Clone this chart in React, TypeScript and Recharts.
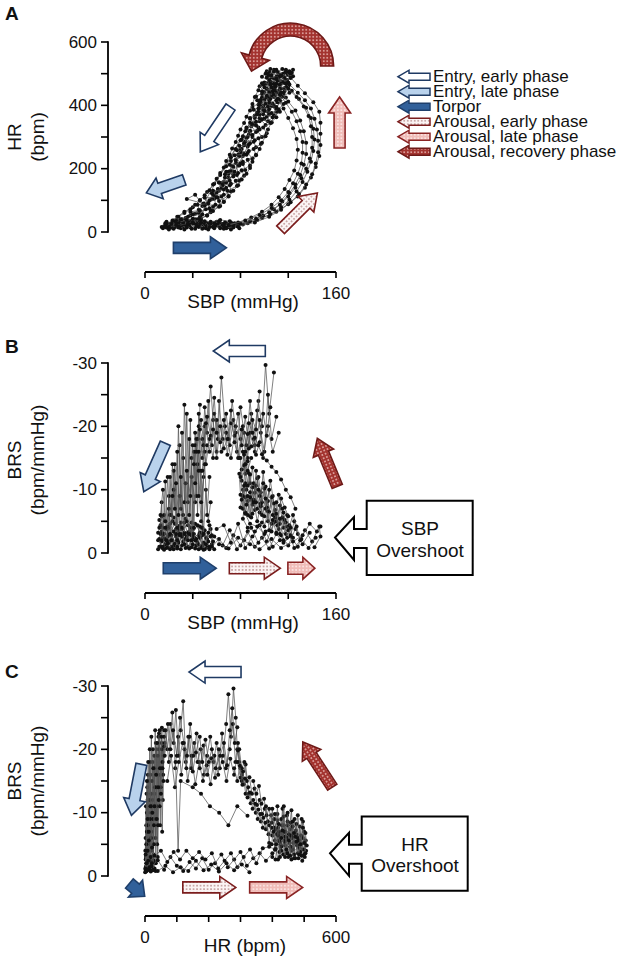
import React from "react";
import { ScatterChart, Scatter, XAxis, YAxis, ReferenceDot } from "recharts";

type Pt = [number, number];

// ---------- Panel A: SBP (mmHg) vs HR (bpm) ----------
const aTop: Pt[] = [[104,505],[110,512],[116,500],[121,508],[113,490],[107,470],[119,480],[124,492],[102,488],[109,462],[117,455],[100,472],[112,445],[105,420],[114,430],[99,440],[108,398],[96,410],[103,380],[111,410],[118,512],[123,503],[106,496]];
const aTop2: Pt[] = [[101,500],[105,515],[111,505],[115,515],[120,498],[117,486],[111,478],[104,480],[99,465],[106,458],[113,466],[120,470],[116,440],[109,448],[102,452],[98,425],[106,432],[112,420],[118,425],[110,395],[101,405],[95,390],[104,388],[99,372],[107,362],[113,380],[103,350],[96,360]];
const aTop3: Pt[] = [[103,498],[108,506],[114,494],[119,502],[122,486],[116,474],[110,484],[105,466],[100,456],[107,444],[113,452],[119,460],[121,440],[115,428],[108,436],[102,430],[97,418],[104,408],[110,416],[116,404],[112,388],[106,376],[100,382],[94,372],[98,356],[105,344],[110,362]];
const aEntry1: Pt[] = [[118,510],[112,498],[108,485],[115,470],[106,455],[110,440],[103,425],[107,405],[100,390],[104,372],[97,355],[101,338],[94,320],[98,300],[91,285],[93,268],[86,250],[90,232],[82,215],[84,196],[77,180],[79,162],[71,148],[72,128],[64,112],[66,95],[57,80],[55,62],[46,48],[40,35],[32,25],[24,18],[18,14]];
const aEntry2: Pt[] = [[108,512],[104,495],[112,480],[100,466],[107,450],[98,436],[104,418],[95,402],[99,386],[92,368],[96,350],[89,334],[93,316],[85,298],[88,280],[80,262],[85,244],[76,228],[79,210],[72,193],[74,175],[66,158],[68,140],[60,125],[61,108],[53,92],[54,75],[45,60],[47,44],[37,34],[30,22],[22,15]];
const aEntry3: Pt[] = [[122,500],[116,488],[120,472],[112,462],[117,445],[109,432],[113,415],[106,398],[110,380],[102,364],[106,346],[99,330],[102,312],[95,296],[97,278],[91,262],[93,244],[86,228],[88,210],[81,195],[83,178],[76,162],[77,145],[69,130],[70,114],[62,98],[63,82],[55,68],[52,52],[44,40],[36,28],[28,20]];
const aEntry4: Pt[] = [[102,508],[98,490],[105,475],[96,460],[100,442],[93,428],[97,410],[90,395],[94,377],[88,360],[91,342],[85,326],[87,308],[81,292],[83,274],[77,258],[79,240],[72,224],[74,206],[68,190],[70,172],[62,156],[64,138],[56,122],[58,105],[49,90],[35,104],[42,118],[51,72],[42,58],[40,42],[32,30],[26,22],[20,16]];
const aEntry5: Pt[] = [[124,512],[120,496],[110,490],[118,468],[108,470],[114,452],[104,448],[108,426],[100,418],[103,396],[96,392],[100,358],[93,348],[96,324],[88,318],[92,290],[84,286],[87,256],[80,252],[82,222],[76,218],[78,186],[70,184],[72,152],[65,148],[66,118],[58,116],[59,86],[50,84],[48,56],[38,52],[35,38],[28,30],[20,20]];
const aEntry6: Pt[] = [[114,476],[109,458],[104,440],[100,420],[97,400],[95,380],[92,360],[90,340],[88,320],[86,300],[83,280],[81,262],[78,244],[76,226],[73,208],[70,190],[67,172],[64,154],[61,136],[57,118],[54,100],[50,86],[45,70],[40,56],[34,44],[28,34],[22,26],[17,20]];
const aEntry7: Pt[] = [[106,488],[102,470],[108,452],[98,444],[102,426],[94,416],[99,398],[91,386],[96,370],[88,358],[93,336],[85,330],[90,306],[82,302],[87,276],[79,272],[83,246],[75,242],[80,216],[71,212],[75,190],[67,182],[71,162],[62,156],[66,134],[57,130],[60,110],[50,108],[53,90],[44,86],[46,68],[38,64],[36,48],[30,40],[26,30]];
const aEntry8: Pt[] = [[120,460],[116,436],[113,412],[110,390],[108,368],[106,346],[103,324],[101,302],[98,282],[96,262],[93,242],[90,222],[88,202],[85,184],[81,166],[78,148],[74,130],[70,112],[66,96],[62,80],[57,66],[52,52],[46,40],[40,30]];
const aEntry9: Pt[] = [[98,470],[95,448],[92,426],[90,404],[88,384],[85,364],[83,344],[80,324],[78,304],[76,284],[73,264],[71,244],[68,224],[66,204],[63,186],[60,168],[57,150],[54,132],[50,116],[46,100],[42,86],[38,72],[33,60],[28,48],[23,36],[18,26]];
const aBand: Pt[] = [[95,330],[90,300],[86,270],[82,240],[78,210],[74,182],[68,156],[62,130],[56,104],[48,82],[88,345],[84,318],[80,290],[76,262],[72,236],[68,208],[63,180],[58,152],[52,126],[46,100],[40,78],[33,64],[27,48],[24,36]];
const aTorpor1: Pt[] = [[18,20],[22,14],[26,22],[30,12],[34,24],[38,15],[42,10],[46,20],[50,14],[54,24],[58,12],[62,18],[66,10],[70,22],[74,14],[68,28],[60,32],[52,28],[44,34],[36,28],[28,32],[20,26],[16,18],[24,10],[32,18],[40,26],[48,10],[56,20],[64,26],[72,8]];
const aTorpor2: Pt[] = [[15,12],[20,8],[25,16],[29,20],[33,8],[37,20],[41,28],[45,16],[49,24],[53,8],[57,16],[61,28],[65,20],[69,14],[73,26],[77,18],[71,34],[63,38],[55,32],[47,38],[39,36],[31,40],[23,30],[19,24],[27,26],[35,14],[43,18],[51,18],[59,24],[67,16]];
const aTorpor3: Pt[] = [[14,16],[17,28],[21,18],[24,34],[28,14],[31,30],[35,20],[39,10],[43,24],[47,30],[51,12],[55,28],[59,20],[63,12],[67,30],[71,18],[75,28],[79,12],[76,22],[72,30],[66,24],[62,34],[58,28],[54,16],[50,34],[46,26],[42,40],[38,30],[34,38],[30,24],[26,38],[22,22],[18,32]];
const aArousal1: Pt[] = [[72,15],[86,28],[98,44],[110,64],[120,88],[128,112],[134,140],[139,172],[143,205],[146,240],[147,275],[147,310],[147,345],[146,380],[141,410],[134,438],[128,462],[122,488],[118,505]];
const aArousal2: Pt[] = [[68,12],[82,24],[94,38],[105,56],[114,78],[121,102],[127,128],[132,158],[136,190],[139,222],[141,256],[142,292],[141,326],[139,360],[135,392],[129,420],[123,446],[118,470],[114,494]];
const aArousal3: Pt[] = [[74,20],[88,34],[99,52],[108,72],[115,96],[121,122],[126,150],[130,180],[133,212],[135,246],[135,282],[133,318],[130,352],[126,384],[120,412],[114,440],[110,468]];
const aArousal4: Pt[] = [[66,20],[78,30],[89,46],[98,64],[106,86],[112,110],[117,136],[121,164],[125,194],[127,226],[128,260],[127,294],[124,328],[120,360],[116,390],[111,420],[108,448]];
const aArousal5: Pt[] = [[80,26],[93,42],[104,62],[113,86],[120,112],[126,140],[131,170],[135,200],[138,232],[140,266],[140,300],[139,334],[137,366],[133,396],[127,426],[120,452]];
const aArousal6: Pt[] = [[70,22],[84,36],[96,54],[106,76],[114,100],[120,126],[124,154],[128,184],[131,216],[132,250],[132,284],[130,318],[127,350],[123,380],[118,408],[113,434],[109,460]];
const aArousal7: Pt[] = [[78,18],[92,30],[104,48],[114,70],[122,94],[129,120],[135,150],[140,182],[143,216],[145,252],[145,288],[144,324],[142,358],[139,390],[134,416],[128,440],[121,466]];

// ---------- Panel B: SBP (mmHg) vs BRS (bpm/mmHg) ----------
const bTop1: Pt[] = [[108,-28.5],[104,-22],[101,-29.7],[98,-20],[95,-24],[92,-17],[89,-22],[86,-15],[83,-19],[80,-23],[77,-16],[74,-21],[71,-17],[68,-22],[65,-18],[62,-24],[60,-16],[57,-21],[55,-26.3],[52,-19],[50,-23],[48,-15],[45,-20],[42,-17]];
const bTop2: Pt[] = [[110,-21.5],[106,-18],[103,-25],[100,-16],[97,-19],[94,-22.5],[91,-18],[88,-24],[85,-17],[82,-20],[79,-15],[76,-19],[73,-24],[70,-18],[67,-20],[64,-27.7],[61,-18],[58,-22],[56,-17],[53,-24],[50,-16],[47,-21],[44,-18],[41,-14]];
const bTop3: Pt[] = [[112,-19],[107,-16],[103,-20],[99,-15],[96,-21],[92,-16],[88,-19],[84,-14],[80,-18],[76,-20],[72,-15],[68,-19],[64,-16],[60,-21],[57,-15],[54,-18],[51,-14],[48,-18],[45,-13]];
const bTop4: Pt[] = [[96,-25.5],[93,-19.5],[90,-21],[87,-16.5],[84,-21.5],[81,-17],[78,-22],[75,-18.5],[72,-20.5],[69,-15.5],[66,-21],[63,-17.5],[60,-19],[58,-24.5],[55,-18.5],[52,-21.5],[49,-17],[46,-19.5],[43,-16]];
const bTop5: Pt[] = [[105,-23],[102,-18.5],[99,-22],[96,-17.5],[93,-15.5],[90,-19],[87,-20.5],[84,-16],[81,-19.5],[78,-15],[75,-17.5],[72,-22.5],[69,-18],[66,-16.5],[63,-20],[60,-15],[57,-19.5],[54,-16],[51,-20.5],[48,-13]];
const bLeft1: Pt[] = [[46,-23.4],[44,-6],[42,-19],[40,-3],[38,-21],[36,-8],[33,-23.4],[31,-4],[29,-17],[27,-2],[25,-14],[23,-5],[21,-12],[19,-1.5],[17,-11.3],[15,-3],[14,-8],[13,-1]];
const bLeft2: Pt[] = [[50,-20],[48,-4],[45,-22],[43,-9],[41,-16],[39,-2],[37,-18],[35,-5],[32,-15],[30,-7],[28,-20],[26,-3],[24,-13],[22,-6],[20,-9],[18,-2],[16,-6],[14,-2]];
const bLeft3: Pt[] = [[52,-17],[49,-12],[47,-5],[44,-14],[42,-8],[39,-12],[37,-3],[34,-11],[32,-6],[29,-9],[27,-4],[24,-10],[22,-2],[20,-7],[17,-4],[15,-1]];
const bLeft4: Pt[] = [[21,-6],[23,-14],[25,-7],[27,-16],[29,-3],[31,-19],[33,-8],[35,-22],[37,-6],[39,-15],[41,-4],[43,-18],[45,-9],[47,-13],[49,-3],[51,-10],[53,-5],[55,-8]];
const bLeft5: Pt[] = [[13,-6],[15,-10],[17,-5],[19,-12],[21,-3],[23,-9],[26,-11],[28,-6],[30,-12],[33,-3],[35,-13],[38,-9],[40,-17],[42,-11],[45,-16],[47,-8],[50,-14],[52,-6],[54,-12]];
const bTorpor1: Pt[] = [[12,-1],[15,-2.5],[18,-0.8],[21,-3],[24,-1.2],[27,-2.2],[30,-0.6],[33,-3.2],[36,-1],[39,-2],[42,-0.7],[45,-2.8],[48,-1.1],[51,-2.4],[54,-0.6],[50,-3.6],[44,-1.6],[38,-4],[32,-1.8],[26,-3.8],[20,-1.6],[14,-3.4],[11,-2],[16,-0.5],[23,-2],[29,-4.3],[35,-2.6],[41,-3],[47,-0.8],[53,-1.8]];
const bTorpor2: Pt[] = [[13,-3],[17,-1.4],[20,-4],[24,-0.6],[28,-1.6],[31,-2.6],[34,-0.8],[37,-3.4],[40,-1.4],[43,-2.2],[46,-4.2],[49,-1.6],[52,-0.9],[56,-1.4],[58,-0.6],[55,-2.6],[48,-2.8],[42,-4.6],[36,-2],[30,-3],[25,-4.6],[19,-2.6],[15,-4],[12,-5.2],[18,-3.8],[22,-1],[27,-0.7],[33,-4.8],[39,-0.9],[45,-1.3]];
const bTorpor3: Pt[] = [[11,-0.6],[14,-1.8],[16,-3],[19,-0.9],[22,-2.8],[25,-1.5],[28,-3.6],[31,-1.2],[34,-2.2],[37,-0.7],[40,-3.8],[43,-1.2],[46,-2.4],[49,-3.4],[52,-2.2],[55,-3.8],[57,-1.8],[54,-1],[50,-0.6],[46,-3.2],[41,-2.4],[36,-4.4],[31,-3.8],[26,-2.6],[21,-4.6],[17,-2.2],[13,-4.4],[11,-3.2]];
const bTorpor4: Pt[] = [[12,-2.2],[15,-0.7],[18,-2],[21,-0.6],[24,-3.4],[27,-1],[30,-4.8],[33,-1.4],[36,-3.2],[39,-4.8],[42,-2],[45,-0.6],[48,-4],[51,-1.4],[54,-4.4],[56,-2.8],[53,-3.2],[49,-0.5],[44,-4.4],[39,-2.8],[34,-5.4],[29,-2.8],[24,-5.6],[19,-4.2],[14,-5.8],[12,-4]];
const bArousal1: Pt[] = [[56,-1],[62,-2.2],[68,-0.8],[74,-2.8],[80,-1.2],[86,-3.4],[92,-1],[98,-2.4],[104,-0.7],[110,-3],[116,-1.6],[122,-2.6],[128,-1],[134,-3.6],[140,-1.8],[146,-4.2],[147,-2.6],[142,-0.9]];
const bArousal2: Pt[] = [[58,-2.6],[65,-1.2],[71,-3.6],[77,-0.6],[83,-2],[89,-4],[95,-1.6],[101,-3.4],[107,-1],[113,-2],[119,-4.2],[125,-0.8],[131,-2.2],[137,-0.8],[143,-2.4]];
const bArousal3: Pt[] = [[60,-3.8],[66,-4.4],[72,-1.6],[78,-4.6],[84,-0.8],[90,-2.6],[96,-4.4],[102,-1.8],[108,-4.8],[114,-2.8],[120,-1.2],[126,-3.8],[132,-1.4],[138,-3.2]];
const bArousal4: Pt[] = [[62,-1.4],[70,-0.7],[78,-2.4],[88,-1.4],[96,-0.6],[106,-2.2],[114,-0.8],[124,-1.8],[132,-2.8],[138,-4.6],[144,-3.4],[147,-4.2]];
const bRight1: Pt[] = [[128,-3],[125,-5],[122,-2.8],[119,-6],[116,-4],[113,-7.5],[110,-5],[107,-9],[104,-6.5],[101,-10.5],[98,-8],[95,-12],[92,-9.5],[90,-13.5],[88,-11],[86,-14.5],[84,-12.5],[82,-16]];
const bRight2: Pt[] = [[124,-2.4],[121,-4.4],[118,-3],[115,-5.6],[112,-3.8],[109,-6.8],[106,-4.6],[103,-8.2],[100,-5.8],[97,-9.6],[94,-7],[91,-11],[89,-8.4],[87,-12.6],[85,-10],[83,-13.8],[81,-11.4],[80,-15]];
const bRight3: Pt[] = [[120,-5.8],[117,-7.2],[114,-8.6],[111,-4.4],[108,-7.8],[105,-11.4],[102,-7.2],[99,-12.8],[96,-6.4],[93,-10.6],[90,-7.6],[88,-9.6],[86,-6],[84,-8.8],[82,-5.4],[86,-4],[92,-3.4],[98,-4.8]];
const bRight4: Pt[] = [[126,-7],[122,-8.8],[118,-10],[114,-11.6],[110,-12.8],[106,-13.6],[102,-14.6],[98,-15.6],[95,-17],[92,-18.2],[89,-16.8],[86,-18.8]];
const bRight5: Pt[] = [[118,-4.8],[115,-7],[112,-9.2],[109,-5.6],[106,-8.8],[103,-5],[100,-10.2],[97,-7.8],[94,-11.8],[92,-6.8],[90,-10.4],[88,-5.8],[86,-8.2],[84,-11],[82,-7],[80,-9.2],[79,-12.5],[81,-13.2]];
const bRight6: Pt[] = [[130,-2],[127,-4.2],[124,-6],[120,-3.6],[117,-5.2],[113,-3],[110,-6.2],[106,-3.4],[103,-6.6],[100,-4.2],[97,-7.4],[94,-5],[91,-8.4],[89,-5.6],[86,-9],[84,-6.4],[82,-10],[80,-7.2]];
const bRight7: Pt[] = [[122,-4],[119,-2.4],[116,-6.4],[113,-4.6],[110,-8],[107,-6],[104,-10],[101,-7],[99,-11],[96,-9],[93,-13],[91,-8],[88,-12.4],[86,-10.6],[84,-14],[82,-9],[80,-12],[83,-15.5],[86,-13],[89,-15]];
const bRight8: Pt[] = [[116,-2],[113,-5.4],[110,-3.2],[107,-5.2],[104,-3.6],[101,-8.6],[98,-6],[95,-10],[93,-8],[90,-6.2],[88,-8.8],[85,-7.6],[83,-10.6],[81,-8.4],[84,-6.2],[88,-4.6],[94,-4.2],[100,-3]];

// ---------- Panel C: HR (bpm) vs BRS (bpm/mmHg) ----------
const cLeft1: Pt[] = [[2,-1],[4,-8],[6,-2],[8,-12],[10,-3],[12,-15],[15,-1.5],[18,-10],[21,-4],[24,-18],[27,-2.5],[30,-13],[33,-6],[36,-20],[40,-3],[44,-16],[48,-8],[52,-21],[56,-12],[60,-23]];
const cLeft2: Pt[] = [[1,-4],[3,-11],[5,-6],[7,-14],[9,-1],[11,-9],[14,-5],[17,-16],[20,-7],[23,-12],[26,-1],[29,-19],[32,-9],[35,-14],[38,-5],[42,-22],[46,-11],[50,-17],[54,-7],[58,-19]];
const cLeft3: Pt[] = [[2,-6],[4,-2],[6,-10],[8,-5],[10,-1.2],[13,-7],[16,-3],[19,-13],[22,-2],[25,-9],[28,-5],[31,-17],[34,-2],[37,-11],[41,-8],[45,-20],[49,-14],[53,-23.4],[57,-16],[62,-21]];
const cLeft4: Pt[] = [[3,-3],[5,-13],[7,-7],[9,-16],[11,-5],[14,-12],[16,-18],[19,-6],[22,-15],[25,-20],[28,-8],[31,-14],[34,-21],[37,-9],[40,-19],[43,-12],[46,-23],[50,-13],[54,-20],[58,-15]];
const cLeft5: Pt[] = [[1,-1.2],[2,-3.4],[3,-0.7],[4,-5],[5,-2],[6,-7],[7,-1],[8,-4],[9,-8],[10,-2.4],[12,-5.6],[14,-1.4],[16,-9],[18,-3],[20,-11],[22,-4.5]];
const cLeft6: Pt[] = [[4,-4],[6,-15],[8,-9],[10,-18],[12,-7],[15,-20],[17,-11],[20,-22],[23,-10],[26,-17],[29,-11],[32,-23],[35,-16],[38,-21],[41,-14],[44,-22.5],[47,-17],[51,-22],[55,-18],[60,-20.5]];
const cBase: Pt[] = [[0.5,-0.6],[3,-1.5],[5,-0.8],[7,-3],[9,-2],[11,-4],[13,-1],[15,-2.6],[18,-0.7],[21,-1.8],[24,-0.9],[27,-3.4],[30,-1.2],[33,-0.8],[20,-2.2],[12,-2.8],[6,-4.4],[2,-2.6]];
const cTop1: Pt[] = [[60,-22],[70,-20],[80,-24],[90,-21],[97,-26.2],[105,-19],[112,-23],[120,-27.6],[128,-18],[136,-22],[145,-17],[155,-21],[165,-18],[175,-20],[185,-16],[195,-19],[205,-22],[215,-18],[225,-21],[235,-17],[245,-19],[255,-24],[262,-28.7],[270,-22],[278,-29.6],[285,-25],[290,-20],[296,-18],[305,-16]];
const cTop2: Pt[] = [[55,-17],[65,-23],[75,-18],[86,-25.8],[95,-17],[104,-22],[114,-16],[124,-20],[134,-15],[146,-19],[158,-14.5],[170,-18],[182,-15],[194,-17.5],[206,-14.5],[218,-19],[230,-16],[242,-22.5],[254,-17],[266,-20],[276,-24],[284,-18],[292,-21],[300,-17],[310,-14.5]];
const cTop3: Pt[] = [[70,-15],[82,-19],[94,-14],[106,-18],[118,-21],[130,-17],[142,-24],[152,-19],[162,-22.5],[172,-17],[184,-20.6],[196,-16],[208,-18.6],[220,-15.5],[232,-20],[244,-18],[256,-15],[268,-18.5],[280,-16],[292,-19.8],[304,-15],[316,-17.6],[326,-13]];
const cTop4: Pt[] = [[62,-19],[72,-24],[80,-20],[88,-23],[100,-19],[110,-25],[122,-21],[132,-19],[140,-22],[150,-16.5],[160,-19.5],[172,-22],[180,-18],[190,-21.5],[200,-18],[210,-20],[222,-17],[236,-19],[248,-21],[258,-17.5],[266,-23],[274,-26.5],[282,-21],[290,-23.5]];
const cCross: Pt[] = [[96,-18],[104,-4],[112,-15],[150,-14],[176,-13],[204,-11],[233,-10],[262,-8],[290,-11],[322,-9.5]];
const cRight1: Pt[] = [[290,-18],[300,-15.5],[308,-16.5],[316,-13],[324,-14],[332,-11.5],[340,-12],[348,-10],[356,-10.5],[364,-8.6],[372,-9.2],[380,-7.4],[390,-8],[400,-6.4],[410,-7.4],[420,-5.6],[430,-6.6],[440,-4.8],[450,-6],[460,-4],[470,-5.4],[480,-3.6],[490,-5],[500,-3.4]];
const cRight2: Pt[] = [[296,-20],[304,-17],[312,-18],[320,-15],[328,-15.6],[336,-13],[344,-13.8],[352,-11.2],[360,-12],[368,-9.8],[376,-10.6],[386,-8.6],[396,-9.6],[406,-7.6],[416,-8.8],[426,-6.8],[436,-8],[446,-6],[456,-7.4],[466,-5.2],[476,-6.6],[486,-4.4],[496,-6],[506,-4]];
const cRight3: Pt[] = [[400,-3],[410,-4.4],[418,-2.6],[426,-5],[434,-3.4],[442,-7],[450,-3],[458,-8.4],[466,-4.2],[474,-7.2],[482,-2.8],[490,-6.4],[498,-4.2],[505,-5.6],[502,-3],[494,-2.4],[486,-7.8],[478,-4.8],[470,-9],[462,-6],[454,-5.2],[446,-9.6],[438,-5.6],[430,-8],[422,-3.8],[414,-6.6],[406,-9],[398,-5]];
const cRight4: Pt[] = [[410,-2.6],[420,-7],[428,-4],[436,-9.4],[444,-3.6],[452,-6.6],[460,-10.4],[468,-3.4],[476,-8.2],[484,-5.6],[492,-3.2],[500,-7],[508,-4.8],[504,-6.8],[496,-8.6],[488,-3.8],[480,-6],[472,-2.8],[464,-7.8],[456,-4.6],[448,-8],[440,-6.2],[432,-10.6],[424,-5.4],[416,-9.8]];
const cRight5: Pt[] = [[340,-15],[350,-13],[358,-14.2],[366,-11.4],[374,-12.2],[382,-9.6],[390,-10.6],[398,-8.4],[408,-9.8],[418,-7.6],[428,-9],[438,-7],[448,-8.6],[458,-6.4]];
const cRight6: Pt[] = [[280,-17],[290,-15],[298,-17.4],[306,-14.4],[314,-15.4],[322,-12.4],[330,-13.2],[338,-10.6],[346,-11.4],[354,-9],[362,-9.8],[370,-7.6],[378,-8.4],[388,-6.6],[398,-7.6],[408,-5.6],[418,-6.4],[428,-4.6],[438,-5.4],[448,-3.6],[458,-4.6],[468,-2.8]];
const cRight7: Pt[] = [[380,-11],[390,-5.2],[400,-10.6],[408,-4.2],[416,-11],[424,-3],[432,-7.2],[440,-3],[448,-10],[456,-3.2],[464,-8.6],[472,-6.2],[480,-9.6],[488,-5],[496,-7.6],[504,-3.6],[500,-5.2],[492,-9],[484,-3.4],[476,-5.4],[468,-6.8],[460,-2.6],[452,-5.6],[444,-4.2],[436,-11],[428,-6],[420,-8.2],[412,-5],[404,-7]];
const cBottom1: Pt[] = [[20,-1.5],[40,-2.5],[60,-1],[80,-3],[100,-1.6],[120,-0.8],[140,-2.2],[160,-1.2],[180,-2.8],[200,-1],[220,-2],[240,-3.4],[260,-1.4],[280,-2.6],[300,-3.8],[320,-1.6],[340,-2.8],[360,-3.6],[380,-2.4],[400,-3.6]];
const cBottom2: Pt[] = [[30,-3.2],[50,-4],[70,-2.2],[90,-3.8],[110,-2.6],[130,-4],[150,-2.8],[170,-3.8],[190,-2.6],[210,-3.6],[230,-1.2],[250,-2.4],[270,-3.6],[290,-1.4],[310,-3],[330,-4.2],[350,-2],[370,-4.4],[390,-4.6],[410,-4.2]];
const cBottom3: Pt[] = [[40,-0.8],[64,-1.6],[88,-0.6],[112,-1.4],[136,-0.8],[160,-2.4],[184,-0.9],[208,-1.8],[232,-0.7],[256,-2],[280,-0.9],[304,-1.8],[328,-0.6]];

// ---------- axes ----------
const sbpTicks = [0, 40, 80, 120, 160];
const hrTicks = [0, 100, 200, 300, 400, 500, 600];
const brsTicks = [-30, -25, -20, -15, -10, -5, 0];
const hrAxisLabels = [0, 200, 400, 600];
const brsAxisLabels = [-30, -20, -10, 0];

const legendLabels = [
  "Entry, early phase",
  "Entry, late phase",
  "Torpor",
  "Arousal, early phase",
  "Arousal, late phase",
  "Arousal, recovery phase",
];

type Kind = "entryEarly" | "entryLate" | "torpor" | "arousalEarly" | "arousalLate" | "recovery";
const legendKinds: Kind[] = ["entryEarly", "entryLate", "torpor", "arousalEarly", "arousalLate", "recovery"];

const STYLE: Record<Kind, { fill: string; stroke: string }> = {
  entryEarly: { fill: "#ffffff", stroke: "#1f3a63" },
  entryLate: { fill: "#b9d2ec", stroke: "#1f3a63" },
  torpor: { fill: "#31609a", stroke: "#1f3f6b" },
  arousalEarly: { fill: "url(#dotsEarly)", stroke: "#7b1d1d" },
  arousalLate: { fill: "url(#dotsLate)", stroke: "#8a2424" },
  recovery: { fill: "url(#dotsRecovery)", stroke: "#6e1a18" },
};

type ArrowNote = { kind: Kind; x: number; y: number; angle: number; len: number; curved?: boolean };

const aArrows: ArrowNote[] = [
  { kind: "entryEarly", x: 59, y: 324, angle: 124, len: 54 },
  { kind: "entryLate", x: 17, y: 144, angle: 161, len: 40 },
  { kind: "torpor", x: 46, y: -50, angle: 0, len: 53 },
  { kind: "arousalEarly", x: 129, y: 65, angle: -45, len: 52 },
  { kind: "arousalLate", x: 163, y: 346, angle: -90, len: 51 },
  { kind: "recovery", x: 122, y: 524, angle: 0, len: 0, curved: true },
];
const bArrows: ArrowNote[] = [
  { kind: "entryEarly", x: 79, y: -31.9, angle: 180, len: 52 },
  { kind: "entryLate", x: 8, y: -13.5, angle: 114, len: 53 },
  { kind: "torpor", x: 37.5, y: 2.4, angle: 0, len: 53 },
  { kind: "arousalEarly", x: 92, y: 2.4, angle: 0, len: 51 },
  { kind: "arousalLate", x: 131, y: 2.4, angle: 0, len: 27 },
  { kind: "recovery", x: 152.7, y: -14.3, angle: -112.5, len: 52 },
];
const cArrows: ArrowNote[] = [
  { kind: "entryEarly", x: 220, y: -32.2, angle: 180, len: 52 },
  { kind: "entryLate", x: -27, y: -13.6, angle: 101, len: 52 },
  { kind: "torpor", x: -25, y: 2.2, angle: 40, len: 20 },
  { kind: "arousalEarly", x: 202, y: 1.8, angle: 0, len: 53 },
  { kind: "arousalLate", x: 412, y: 1.8, angle: 0, len: 53 },
  { kind: "recovery", x: 542, y: -17.6, angle: -123, len: 54 },
];

const FONT = "'Liberation Sans', Arial, Helvetica, sans-serif";
const Y_AXIS_X = 108;
const PLOT_LEFT = 145;
const PLOT_W = 191;
const TOP = 42;
const DATA_H = 190;
const PAD_BOTTOM = 40;

function BlockArrow({ cx, cy, angle, len, kind }: { cx: number; cy: number; angle: number; len: number; kind: Kind }) {
  const small = len < 30;
  const shaft = small ? 12 : 11;
  const head = 22;
  const hl = small ? 12 : len < 45 ? 14 : 16;
  const h = len / 2;
  const s = shaft / 2;
  const w = head / 2;
  const pts = `${-h},${-s} ${h - hl},${-s} ${h - hl},${-w} ${h},0 ${h - hl},${w} ${h - hl},${s} ${-h},${s}`;
  const st = STYLE[kind];
  return (
    <polygon
      points={pts}
      transform={`translate(${cx},${cy}) rotate(${angle})`}
      fill={st.fill}
      stroke={st.stroke}
      strokeWidth={1.6}
    />
  );
}

function CurvedArrow({ cx, cy }: { cx: number; cy: number }) {
  const rIn = 30;
  const rOut = 43;
  const end = (165 * Math.PI) / 180;
  const c = Math.cos(end);
  const s = Math.sin(end);
  const p = (r: number) => [cx + r * c, cy - r * s];
  const [oex, oey] = p(rOut);
  const [iex, iey] = p(rIn);
  const [hox, hoy] = p(51);
  const [hix, hiy] = p(22);
  const [mx, my] = p(36.5);
  const tx = mx - s * 15;
  const ty = my - c * 15;
  const d = `M${cx + rOut},${cy} A${rOut},${rOut} 0 0 0 ${oex},${oey} L${hox},${hoy} L${tx},${ty} L${hix},${hiy} L${iex},${iey} A${rIn},${rIn} 0 0 1 ${cx + rIn},${cy} Z`;
  return <path d={d} fill={STYLE.recovery.fill} stroke={STYLE.recovery.stroke} strokeWidth={1.6} />;
}

const Dot = (props: any) => <circle cx={props.cx} cy={props.cy} r={2} fill="#111" />;

function Panel({
  top,
  height,
  series,
  xDomain,
  xTicks,
  yDomain,
  yTicks,
  yLabels,
  reversed,
  arrows,
}: {
  top: number;
  height: number;
  series: Pt[][];
  xDomain: [number, number];
  xTicks: number[];
  yDomain: [number, number];
  yTicks: number[];
  yLabels: number[];
  reversed: boolean;
  arrows: ArrowNote[];
}) {
  const axisY = TOP + DATA_H + PAD_BOTTOM;
  const xLabeled = [xTicks[0], xTicks[xTicks.length - 1]];
  return (
    <div style={{ position: "absolute", left: 0, top, width: 624, height }}>
      <ScatterChart
        width={624}
        height={height}
        margin={{ top: TOP, left: 0, right: 624 - PLOT_LEFT - PLOT_W, bottom: height - axisY - 30 }}
      >
        <XAxis
          type="number"
          dataKey="x"
          domain={xDomain}
          ticks={xTicks}
          interval={0}
          height={30}
          axisLine={{ stroke: "#000", strokeWidth: 1.8 }}
          tickLine={{ stroke: "#000", strokeWidth: 1.6 }}
          tickSize={6}
          tick={(p: any) =>
            xLabeled.includes(p.payload.value) ? (
              <text x={p.x} y={axisY + 27} textAnchor="middle" fontSize={17} fontFamily={FONT} fill="#111">
                {p.payload.value}
              </text>
            ) : (
              <g />
            )
          }
        />
        <YAxis
          type="number"
          dataKey="y"
          domain={yDomain}
          ticks={yTicks}
          interval={0}
          reversed={reversed}
          width={PLOT_LEFT}
          padding={{ top: 0, bottom: PAD_BOTTOM }}
          axisLine={false}
          tickLine={false}
          tick={(p: any) => (
            <g>
              <line x1={Y_AXIS_X - 7} x2={Y_AXIS_X} y1={p.y} y2={p.y} stroke="#000" strokeWidth={1.6} />
              {p.payload.value === 0 && (
                <line x1={Y_AXIS_X} x2={Y_AXIS_X} y1={p.y + 0.8} y2={p.y - DATA_H - 0.8} stroke="#000" strokeWidth={1.8} />
              )}
              {yLabels.includes(p.payload.value) && (
                <text
                  x={Y_AXIS_X - 11}
                  y={p.y}
                  textAnchor="end"
                  dominantBaseline="central"
                  fontSize={17}
                  fontFamily={FONT}
                  fill="#111"
                >
                  {p.payload.value}
                </text>
              )}
            </g>
          )}
        />
        {series.map((pts, i) => (
          <Scatter
            key={i}
            data={pts.map(([x, y]) => ({ x, y }))}
            line={{ stroke: "#555", strokeWidth: 0.75 }}
            lineType="joint"
            shape={Dot}
            isAnimationActive={false}
          />
        ))}
        {arrows.map((a, i) => (
          <ReferenceDot
            key={`arr${i}`}
            x={a.x}
            y={a.y}
            r={1}
            ifOverflow="visible"
            shape={(p: any) =>
              a.curved ? (
                <CurvedArrow cx={p.cx} cy={p.cy} />
              ) : (
                <BlockArrow cx={p.cx} cy={p.cy} angle={a.angle} len={a.len} kind={a.kind} />
              )
            }
          />
        ))}
      </ScatterChart>
    </div>
  );
}

function LegendIcon({ x, y, kind }: { x: number; y: number; kind: Kind }) {
  const st = STYLE[kind];
  const pts = `${x},${y} ${x + 11},${y - 6.5} ${x + 11},${y - 3.5} ${x + 32},${y - 3.5} ${x + 32},${y + 3.5} ${x + 11},${y + 3.5} ${x + 11},${y + 6.5}`;
  return <polygon points={pts} fill={st.fill} stroke={st.stroke} strokeWidth={1.5} />;
}

function Callout({ x, y, l1, l2 }: { x: number; y: number; l1: string; l2: string }) {
  // x, y: arrow tip
  const d = `M${x + 31.7},${y - 36.8} H${x + 137.7} V${y + 37.5} H${x + 31.7} V${y + 10.5} H${x + 19} V${y + 22.5} L${x},${y} L${x + 19},${y - 20.5} V${y - 8.5} H${x + 31.7} Z`;
  return (
    <g>
      <path d={d} fill="#fff" stroke="#000" strokeWidth={2} />
      <text x={x + 85} y={y - 2.5} textAnchor="middle" fontSize={19} fontFamily={FONT} fill="#111">
        {l1}
      </text>
      <text x={x + 85} y={y + 19} textAnchor="middle" fontSize={19} fontFamily={FONT} fill="#111">
        {l2}
      </text>
    </g>
  );
}

function YTitle({ y, l1, l2 }: { y: number; l1: string; l2: string }) {
  return (
    <g fontSize={19} fontFamily={FONT} fill="#111">
      <text transform={`translate(14,${y}) rotate(-90)`} textAnchor="middle" dominantBaseline="central">
        {l1}
      </text>
      <text transform={`translate(37,${y}) rotate(-90)`} textAnchor="middle" dominantBaseline="central">
        {l2}
      </text>
    </g>
  );
}

export default function App() {
  return (
    <div style={{ position: "absolute", left: 0, top: 0, width: 624, height: 960, background: "#fff", fontFamily: FONT }}>
      <svg width={0} height={0} style={{ position: "absolute" }}>
        <defs>
          <pattern id="dotsEarly" width={3.5} height={3.5} patternUnits="userSpaceOnUse">
            <rect width={3.5} height={3.5} fill="#fbf4f4" />
            <circle cx={1.75} cy={1.75} r={0.8} fill="#b48686" />
          </pattern>
          <pattern id="dotsLate" width={3.5} height={3.5} patternUnits="userSpaceOnUse">
            <rect width={3.5} height={3.5} fill="#f0bcb8" />
            <circle cx={1.75} cy={1.75} r={0.8} fill="#fff4f3" />
          </pattern>
          <pattern id="dotsRecovery" width={3.5} height={3.5} patternUnits="userSpaceOnUse">
            <rect width={3.5} height={3.5} fill="#a3332f" />
            <circle cx={1.75} cy={1.75} r={0.8} fill="#f2c9c5" />
          </pattern>
        </defs>
      </svg>

      <Panel
        top={0}
        height={320}
        series={[aTorpor1, aTorpor2, aTorpor3, aBand, aEntry1, aEntry2, aEntry3, aEntry4, aEntry5, aEntry6, aEntry7, aEntry8, aEntry9, aTop, aTop2, aTop3, aArousal1, aArousal2, aArousal3, aArousal4, aArousal5, aArousal6, aArousal7]}
        xDomain={[0, 160]}
        xTicks={sbpTicks}
        yDomain={[0, 600]}
        yTicks={hrTicks}
        yLabels={hrAxisLabels}
        reversed={false}
        arrows={aArrows}
      />
      <Panel
        top={321}
        height={320}
        series={[bTorpor1, bTorpor2, bTorpor3, bTorpor4, bLeft1, bLeft2, bLeft3, bLeft4, bLeft5, bTop1, bTop2, bTop3, bTop4, bTop5, bArousal1, bArousal2, bArousal3, bArousal4, bRight1, bRight2, bRight3, bRight4, bRight5, bRight6, bRight7, bRight8]}
        xDomain={[0, 160]}
        xTicks={sbpTicks}
        yDomain={[-30, 0]}
        yTicks={brsTicks}
        yLabels={brsAxisLabels}
        reversed={true}
        arrows={bArrows}
      />
      <Panel
        top={644}
        height={316}
        series={[cBase, cLeft1, cLeft2, cLeft3, cLeft4, cLeft5, cLeft6, cTop1, cTop2, cTop3, cTop4, cCross, cRight1, cRight2, cRight3, cRight4, cRight5, cRight6, cRight7, cBottom1, cBottom2, cBottom3]}
        xDomain={[0, 600]}
        xTicks={hrTicks}
        yDomain={[-30, 0]}
        yTicks={brsTicks}
        yLabels={brsAxisLabels}
        reversed={true}
        arrows={cArrows}
      />

      <svg width={624} height={960} style={{ position: "absolute", left: 0, top: 0, pointerEvents: "none" }}>
        <g fontFamily={FONT} fontWeight="bold" fontSize={19} fill="#111">
          <text x={5} y={20}>A</text>
          <text x={5} y={353}>B</text>
          <text x={5} y={678}>C</text>
        </g>

        <YTitle y={137} l1="HR" l2="(bpm)" />
        <YTitle y={460} l1="BRS" l2="(bpm/mmHg)" />
        <YTitle y={781} l1="BRS" l2="(bpm/mmHg)" />

        <g fontFamily={FONT} fontSize={19} fill="#111" textAnchor="middle">
          <text x={243} y={308}>SBP (mmHg)</text>
          <text x={243} y={629}>SBP (mmHg)</text>
          <text x={245} y={952}>HR (bpm)</text>
        </g>

        {legendLabels.map((label, i) => (
          <g key={label}>
            <LegendIcon x={398} y={76.7 + i * 15} kind={legendKinds[i]} />
            <text x={433} y={82.3 + i * 15} fontSize={17} fontFamily={FONT} fill="#111">
              {label}
            </text>
          </g>
        ))}

        <Callout x={335} y={537.5} l1="SBP" l2="Overshoot" />
        <Callout x={330} y={853.3} l1="HR" l2="Overshoot" />
      </svg>
    </div>
  );
}
